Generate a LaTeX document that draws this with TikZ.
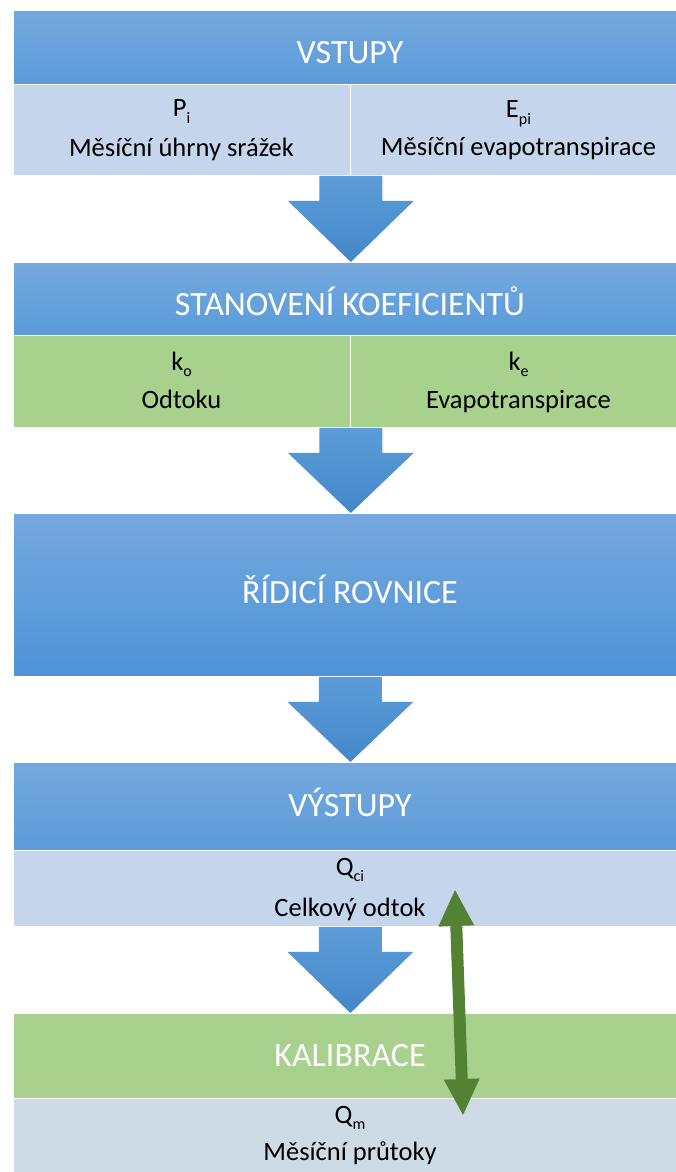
\documentclass[tikz,border=0pt]{standalone}
\usepackage{fontspec}
\setmainfont{Carlito}
\usetikzlibrary{arrows.meta,calc}
\definecolor{hdrtop}{HTML}{75A9DE}
\definecolor{hdrbot}{HTML}{5A9BD9}
\definecolor{bigbot}{HTML}{4E93D8}
\definecolor{arrtop}{HTML}{5C9CD8}
\definecolor{arrbot}{HTML}{4487CA}
\definecolor{subblue}{HTML}{C5D6EC}
\definecolor{subgreen}{HTML}{A9D18E}
\definecolor{subgrey}{HTML}{CDDBE6}
\definecolor{darkgreen}{HTML}{548235}
\newcommand\sbs[1]{\raisebox{-6.5pt}{\fontsize{16}{16}\selectfont #1}}
\newcommand\bluearrow[2]{%
  \path[arrowfill] let \p1=(#1), \p2=(#2) in
    (\x1-31.5pt,\y1) -- (\x1+31.5pt,\y1) -- (\x1+31.5pt,\y1-25pt) --
    (\x1+63pt,\y1-25pt) -- (\x1,\y2) -- (\x1-63pt,\y1-25pt) --
    (\x1-31.5pt,\y1-25pt) -- cycle;}
\begin{document}
\begin{tikzpicture}[x=1pt,y=-1pt,
  boxbase/.style={rectangle, draw=white, line width=0.8pt, inner sep=0pt,
    anchor=north west},
  hdr/.style={boxbase, top color=hdrtop, bottom color=hdrbot, minimum width=674pt},
  cell/.style={boxbase, minimum width=337pt},
  wide/.style={minimum width=674pt},
  htext/.style={anchor=base, inner sep=0pt, text=white, font=\fontsize{34}{40}\selectfont},
  ctext/.style={anchor=base, inner sep=0pt, text=black, font=\fontsize{26.5}{32}\selectfont},
  arrowfill/.style={top color=arrtop, bottom color=arrbot},
  gline/.style={draw=darkgreen, line width=12pt,
    {Triangle[length=36pt,width=36pt,line width=0pt]}-{Triangle[length=36pt,width=36pt,line width=0pt]}}
]
\useasboundingbox (0,0) rectangle (676,1172);
\fill[white] (0,0) rectangle (676,1172);

% boxes
\node[hdr, minimum height=73.5pt] (h1) at (13,10.5) {};
\node[cell, fill=subblue, minimum height=91pt] (s1l) at (13,84) {};
\node[cell, fill=subblue, minimum height=91pt] (s1r) at (350,84) {};
\node[hdr, minimum height=73pt] (h2) at (13,262) {};
\node[cell, fill=subgreen, minimum height=92pt] (s2l) at (13,335) {};
\node[cell, fill=subgreen, minimum height=92pt] (s2r) at (350,335) {};
\node[hdr, bottom color=bigbot, minimum height=163pt] (h3) at (13,513) {};
\node[hdr, minimum height=88pt] (h4) at (13,762) {};
\node[cell, wide, fill=subblue, minimum height=76pt] (s4) at (13,850) {};
\node[boxbase, wide, fill=subgreen, minimum height=85pt] (h5) at (13,1013) {};
\node[cell, wide, fill=subgrey, minimum height=78pt] (s5) at (13,1098) {};

% texts
\node[htext] (t1) at (350,63.3) {VSTUPY};
\node[ctext] (t1a) at (181.5,116.7) {P\sbs{i}};
\node[ctext] (t1b) at (181.5,156) {Měsíční úhrny srážek};
\node[ctext] (t1c) at (518.5,117.5) {E\sbs{pi}};
\node[ctext] (t1d) at (518.5,155.5) {Měsíční evapotranspirace};
\node[htext] (t2) at (350,315) {STANOVENÍ KOEFICIENTŮ};
\node[ctext] (t2a) at (181.5,370) {k\sbs{o}};
\node[ctext] (t2b) at (181.5,408.5) {Odtoku};
\node[ctext] (t2c) at (518.5,370) {k\sbs{e}};
\node[ctext] (t2d) at (518.5,408.5) {Evapotranspirace};
\node[htext] (t3) at (350,603.3) {ŘÍDICÍ ROVNICE};
\node[htext] (t4) at (350,816.7) {VÝSTUPY};
\node[ctext] (t4a) at (350,875) {Q\sbs{ci}};
\node[ctext] (t4b) at (350,916) {Celkový odtok};
\node[htext] (t5) at (350,1066.7) {KALIBRACE};
\node[ctext] (t5a) at (350,1123.3) {Q\sbs{m}};
\node[ctext] (t5b) at (350,1160.7) {Měsíční průtoky};

% block arrows
\bluearrow{s1l.south east}{h2.north}
\bluearrow{s2l.south east}{h3.north}
\bluearrow{h3.south}{h4.north}
\bluearrow{s4.south}{h5.north}

% calibration arrow
\coordinate (gtop) at (455,890);
\coordinate (gbot) at (463,1115);
\draw[gline] (gtop) -- (gbot);
\end{tikzpicture}
\end{document}
